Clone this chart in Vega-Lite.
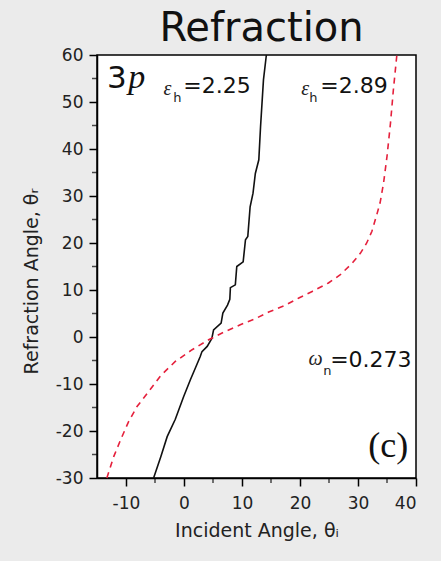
{
  "$schema": "https://vega.github.io/schema/vega-lite/v6.json",
  "width": 319,
  "height": 423,
  "autosize": "none",
  "padding": {"left": 97, "top": 55, "right": 25, "bottom": 83},
  "background": "#ebebeb",
  "title": {"text": "Refraction", "font": "DejaVu Sans", "fontSize": 40, "fontWeight": "normal", "color": "#111111", "anchor": "middle", "dx": 5, "offset": -3},
  "config": {
    "view": {"stroke": "#000000", "strokeWidth": 1.5, "fill": "#ffffff"},
    "axis": {
      "grid": false,
      "domainColor": "#000000",
      "domainWidth": 1.5,
      "tickColor": "#000000",
      "tickWidth": 1.5,
      "tickSize": 8,
      "labelFont": "DejaVu Sans",
      "labelFontSize": 17,
      "labelColor": "#222222",
      "titleFont": "DejaVu Sans",
      "titleFontSize": 19,
      "titleFontWeight": "normal",
      "titleColor": "#222222"
    }
  },
  "datasets": {
    "curves": [
      {"eps": "2.25", "i": 0, "x": -5.24, "y": -30},
      {"eps": "2.25", "i": 1, "x": -4.0, "y": -25.5},
      {"eps": "2.25", "i": 2, "x": -2.9, "y": -21.2},
      {"eps": "2.25", "i": 3, "x": -1.5, "y": -17.5},
      {"eps": "2.25", "i": 4, "x": -0.07, "y": -12.7},
      {"eps": "2.25", "i": 5, "x": 1.1, "y": -9.1},
      {"eps": "2.25", "i": 6, "x": 2.0, "y": -6.5},
      {"eps": "2.25", "i": 7, "x": 2.8, "y": -4.15},
      {"eps": "2.25", "i": 8, "x": 3.1, "y": -3.1},
      {"eps": "2.25", "i": 9, "x": 4.0, "y": -2.0},
      {"eps": "2.25", "i": 10, "x": 4.8, "y": -0.3},
      {"eps": "2.25", "i": 11, "x": 5.1, "y": 1.5},
      {"eps": "2.25", "i": 12, "x": 6.4, "y": 2.95},
      {"eps": "2.25", "i": 13, "x": 6.7, "y": 5.1},
      {"eps": "2.25", "i": 14, "x": 7.5, "y": 6.8},
      {"eps": "2.25", "i": 15, "x": 7.9, "y": 8.0},
      {"eps": "2.25", "i": 16, "x": 8.0, "y": 10.5},
      {"eps": "2.25", "i": 17, "x": 8.85, "y": 11.1},
      {"eps": "2.25", "i": 18, "x": 9.1, "y": 15},
      {"eps": "2.25", "i": 19, "x": 10.2, "y": 16},
      {"eps": "2.25", "i": 20, "x": 10.6, "y": 20.7},
      {"eps": "2.25", "i": 21, "x": 11.0, "y": 21.4},
      {"eps": "2.25", "i": 22, "x": 11.4, "y": 27.7},
      {"eps": "2.25", "i": 23, "x": 11.9, "y": 30.6},
      {"eps": "2.25", "i": 24, "x": 12.3, "y": 34.8},
      {"eps": "2.25", "i": 25, "x": 12.9, "y": 37.7},
      {"eps": "2.25", "i": 26, "x": 13.2, "y": 44.8},
      {"eps": "2.25", "i": 27, "x": 13.7, "y": 54.7},
      {"eps": "2.25", "i": 28, "x": 14.2, "y": 60},
      {"eps": "2.89", "i": 0, "x": -13.3, "y": -30},
      {"eps": "2.89", "i": 1, "x": -12.1, "y": -25.4},
      {"eps": "2.89", "i": 2, "x": -10.8, "y": -21.5},
      {"eps": "2.89", "i": 3, "x": -9.55, "y": -18},
      {"eps": "2.89", "i": 4, "x": -8.1, "y": -14.8},
      {"eps": "2.89", "i": 5, "x": -6.1, "y": -11.6},
      {"eps": "2.89", "i": 6, "x": -4.0, "y": -8.2},
      {"eps": "2.89", "i": 7, "x": -1.5, "y": -5.2},
      {"eps": "2.89", "i": 8, "x": 1.4, "y": -2.7},
      {"eps": "2.89", "i": 9, "x": 4.25, "y": -0.6},
      {"eps": "2.89", "i": 10, "x": 6.8, "y": 1.0},
      {"eps": "2.89", "i": 11, "x": 9.7, "y": 2.6},
      {"eps": "2.89", "i": 12, "x": 12.3, "y": 3.9},
      {"eps": "2.89", "i": 13, "x": 14.6, "y": 5.3},
      {"eps": "2.89", "i": 14, "x": 17.2, "y": 6.6},
      {"eps": "2.89", "i": 15, "x": 19.8, "y": 8.3},
      {"eps": "2.89", "i": 16, "x": 22.1, "y": 9.7},
      {"eps": "2.89", "i": 17, "x": 24.9, "y": 11.5},
      {"eps": "2.89", "i": 18, "x": 26.9, "y": 13.2},
      {"eps": "2.89", "i": 19, "x": 29.0, "y": 15.7},
      {"eps": "2.89", "i": 20, "x": 30.4, "y": 17.8},
      {"eps": "2.89", "i": 21, "x": 31.5, "y": 20},
      {"eps": "2.89", "i": 22, "x": 32.4, "y": 22.5},
      {"eps": "2.89", "i": 23, "x": 33.3, "y": 26.3},
      {"eps": "2.89", "i": 24, "x": 33.8, "y": 28.5},
      {"eps": "2.89", "i": 25, "x": 34.4, "y": 32.7},
      {"eps": "2.89", "i": 26, "x": 35.0, "y": 38.4},
      {"eps": "2.89", "i": 27, "x": 35.6, "y": 45.5},
      {"eps": "2.89", "i": 28, "x": 36.1, "y": 52.6},
      {"eps": "2.89", "i": 29, "x": 36.7, "y": 60}
    ],
    "greek": [
      {"x": -2.84, "y": 51.5, "t": "ε"},
      {"x": 20.9, "y": 51.5, "t": "ε"},
      {"x": 22.67, "y": -5.96, "t": "ω"}
    ],
    "subs": [
      {"x": -1.84, "y": 50.0, "t": "h"},
      {"x": 21.6, "y": 50.0, "t": "h"},
      {"x": 24.0, "y": -8.1, "t": "n"}
    ],
    "vals": [
      {"x": -0.12, "y": 51.9, "t": "=2.25"},
      {"x": 23.5, "y": 51.9, "t": "=2.89"},
      {"x": 25.2, "y": -6.4, "t": "=0.273"}
    ],
    "three": [{"x": -13.28, "y": 53.0, "t": "3"}],
    "pee": [{"x": -9.6, "y": 53.0, "t": "p"}],
    "panel": [{"x": 31.77, "y": -25.5, "t": "(c)"}],
    "minorx": [{"x": -5, "y": -30}, {"x": 5, "y": -30}, {"x": 15, "y": -30}, {"x": 25, "y": -30}, {"x": 35, "y": -30}],
    "minory": [{"x": -15, "y": -25}, {"x": -15, "y": -15}, {"x": -15, "y": -5}, {"x": -15, "y": 5}, {"x": -15, "y": 15}, {"x": -15, "y": 25}, {"x": -15, "y": 35}, {"x": -15, "y": 45}, {"x": -15, "y": 55}]
  },
  "layer": [
    {
      "mark": {"type": "rule", "color": "#000000", "strokeWidth": 1.5},
      "encoding": {"x": {"datum": 0, "type": "quantitative", "scale": {"domain": [-15, 40], "nice": false, "zero": false}, "axis": {"values": [-10, 0, 10, 20, 30, 40], "title": "Incident Angle, θᵢ", "labelPadding": 9, "titlePadding": 10, "labelExpr": "replace(datum.label, '−', '-')"}}}
    },
    {
      "mark": {"type": "rule", "color": "#000000", "strokeWidth": 1.8},
      "encoding": {"y": {"datum": 0, "type": "quantitative", "scale": {"domain": [-30, 60], "nice": false, "zero": false}, "axis": {"values": [-30, -20, -10, 0, 10, 20, 30, 40, 50, 60], "title": "Refraction Angle, θᵣ", "labelPadding": 6, "titlePadding": 14, "titleY": 226, "labelExpr": "replace(datum.label, '−', '-')"}}}
    },
    {
      "data": {"name": "curves"},
      "transform": [{"filter": "datum.eps == '2.25'"}],
      "mark": {"type": "line", "color": "#111111", "strokeWidth": 1.6},
      "encoding": {"x": {"field": "x", "type": "quantitative"}, "y": {"field": "y", "type": "quantitative"}, "order": {"field": "i"}}
    },
    {
      "data": {"name": "curves"},
      "transform": [{"filter": "datum.eps == '2.89'"}],
      "mark": {"type": "line", "color": "#e5203c", "strokeWidth": 1.6, "strokeDash": [6, 5]},
      "encoding": {"x": {"field": "x", "type": "quantitative"}, "y": {"field": "y", "type": "quantitative"}, "order": {"field": "i"}}
    },
    {
      "data": {"name": "minorx"},
      "mark": {"type": "tick", "orient": "vertical", "color": "#000000", "size": 5, "thickness": 1.5, "yOffset": 2.5},
      "encoding": {"x": {"field": "x", "type": "quantitative"}, "y": {"field": "y", "type": "quantitative"}}
    },
    {
      "data": {"name": "minory"},
      "mark": {"type": "tick", "orient": "horizontal", "color": "#000000", "size": 5, "thickness": 1.5, "xOffset": -2.5},
      "encoding": {"x": {"field": "x", "type": "quantitative"}, "y": {"field": "y", "type": "quantitative"}}
    },
    {
      "data": {"name": "greek"},
      "mark": {"type": "text", "font": "Liberation Serif", "fontStyle": "italic", "fontSize": 20, "align": "center", "baseline": "alphabetic", "color": "#222222"},
      "encoding": {"x": {"field": "x", "type": "quantitative"}, "y": {"field": "y", "type": "quantitative"}, "text": {"field": "t"}}
    },
    {
      "data": {"name": "subs"},
      "mark": {"type": "text", "font": "DejaVu Sans", "fontSize": 13, "align": "left", "baseline": "alphabetic", "color": "#222222"},
      "encoding": {"x": {"field": "x", "type": "quantitative"}, "y": {"field": "y", "type": "quantitative"}, "text": {"field": "t"}}
    },
    {
      "data": {"name": "vals"},
      "mark": {"type": "text", "font": "DejaVu Sans", "fontSize": 22, "align": "left", "baseline": "alphabetic", "color": "#111111"},
      "encoding": {"x": {"field": "x", "type": "quantitative"}, "y": {"field": "y", "type": "quantitative"}, "text": {"field": "t"}}
    },
    {
      "data": {"name": "three"},
      "mark": {"type": "text", "font": "DejaVu Sans", "fontSize": 31, "align": "left", "baseline": "alphabetic", "color": "#111111"},
      "encoding": {"x": {"field": "x", "type": "quantitative"}, "y": {"field": "y", "type": "quantitative"}, "text": {"field": "t"}}
    },
    {
      "data": {"name": "pee"},
      "mark": {"type": "text", "font": "Liberation Serif", "fontStyle": "italic", "fontSize": 34, "align": "left", "baseline": "alphabetic", "color": "#111111"},
      "encoding": {"x": {"field": "x", "type": "quantitative"}, "y": {"field": "y", "type": "quantitative"}, "text": {"field": "t"}}
    },
    {
      "data": {"name": "panel"},
      "mark": {"type": "text", "font": "Liberation Serif", "fontSize": 36, "align": "left", "baseline": "alphabetic", "color": "#111111"},
      "encoding": {"x": {"field": "x", "type": "quantitative"}, "y": {"field": "y", "type": "quantitative"}, "text": {"field": "t"}}
    }
  ]
}
